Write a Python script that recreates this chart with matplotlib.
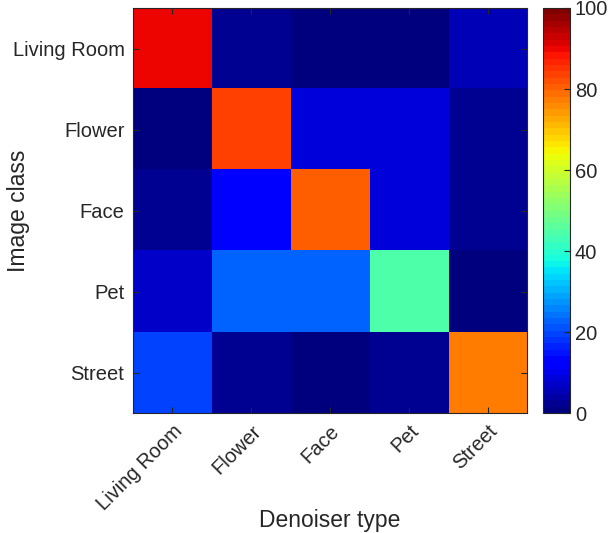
import numpy as np
from matplotlib import pyplot as plt

plt.rcParams['font.family'] = ['Liberation Sans', 'DejaVu Sans']

classes = ['Living Room', 'Flower', 'Face', 'Pet', 'Street']

# rows: image class, cols: denoiser type (percent)
row_living = [90, 3, 1, 1, 5]
row_flower = [0, 83, 8, 8, 2]
row_face = [2, 12, 80, 8, 2]
row_pet = [7, 23, 23, 45, 0.5]
row_street = [19, 3, 1, 2, 77]

mat = np.array([row_living, row_flower, row_face, row_pet, row_street])

fig = plt.figure(figsize=(6.15, 5.33), dpi=100)
ax = fig.add_axes([0.216, 0.225, 0.641, 0.76])
cax = fig.add_axes([0.883, 0.225, 0.044, 0.76])

im = ax.imshow(mat, cmap=plt.get_cmap('jet', 64), vmin=0, vmax=100,
               aspect='auto', interpolation='nearest')

dark = '#262626'
ax.set_xticks(range(5))
ax.set_yticks(range(5))
ax.set_xticklabels(classes, rotation=45, ha='right', rotation_mode='anchor')
ax.set_yticklabels(classes)
ax.tick_params(direction='in', top=True, right=True, length=4,
               labelsize=14.5, colors=dark, labelcolor=dark, pad=6)
for s in ax.spines.values():
    s.set_color(dark)
ax.set_xlabel('Denoiser type', fontsize=16.5, color=dark)
ax.set_ylabel('Image class', fontsize=16.5, color=dark)
ax.xaxis.set_label_coords(0.5, -0.237)
ax.yaxis.set_label_coords(-0.262, 0.5)

cb = fig.colorbar(im, cax=cax, ticks=[0, 20, 40, 60, 80, 100])
cb.ax.tick_params(direction='in', length=4, labelsize=14.5, colors=dark,
                  labelcolor=dark)
cb.outline.set_edgecolor(dark)

fig.savefig('out.png')
